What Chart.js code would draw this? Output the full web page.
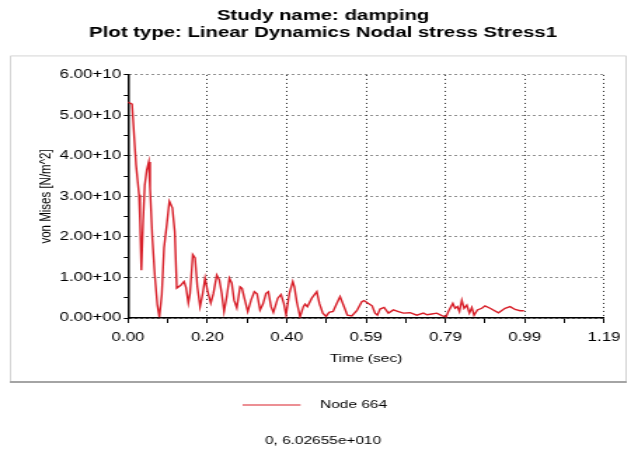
<!DOCTYPE html>
<html>
<head>
<meta charset="utf-8">
<title>damping - Node 664</title>
<script src="https://cdn.jsdelivr.net/npm/chart.js@4.4.0/dist/chart.umd.min.js"></script>
<style>
  html, body { margin: 0; padding: 0; background: #fff; }
  #Chart { display: block; }
</style>
</head>
<body>
<!-- plot is drawn narrow and widened on screen, like the solver's exported view -->
<canvas id="Chart" width="450" height="449" style="width: 631px; height: 449px;"></canvas>
<script>
'use strict';
// ********************** DATA *********************

const titleLines = ['Study name: damping', 'Plot type: Linear Dynamics Nodal stress Stress1'];
const seriesName = 'Node 664';
const readout = '0, 6.02655e+010';

// time (sec)
const timeSec = [
  0, 0.010, 0.020, 0.0275, 0.030, 0.0333, 0.0375, 0.0418, 0.0468, 0.0518,
  0.055, 0.0608, 0.0668, 0.0733, 0.0783, 0.0843, 0.090, 0.0968, 0.1033, 0.1108,
  0.1168, 0.1218, 0.1318, 0.140, 0.145, 0.1508, 0.155, 0.1618, 0.1675, 0.1733,
  0.180, 0.1868, 0.1925, 0.1983, 0.2068, 0.2133, 0.2218, 0.2283, 0.2343, 0.240,
  0.2468, 0.2533, 0.2593, 0.265, 0.2718, 0.280, 0.285, 0.2908, 0.2993, 0.3075,
  0.3158, 0.3225, 0.330, 0.3375, 0.345, 0.3508, 0.3575, 0.3633, 0.3743, 0.3825,
  0.3893, 0.395, 0.4033, 0.4118, 0.4158, 0.4218, 0.430, 0.4383, 0.4425, 0.4483,
  0.4593, 0.4718, 0.4783, 0.4868, 0.495, 0.5025, 0.5125, 0.520, 0.530, 0.5383,
  0.5483, 0.5593, 0.5718, 0.5843, 0.590, 0.6008, 0.610, 0.6175, 0.6233, 0.630,
  0.640, 0.6508, 0.6633, 0.6758, 0.6883, 0.705, 0.7218, 0.7383, 0.7475, 0.7593,
  0.7718, 0.7843, 0.795, 0.8008, 0.8118, 0.8175, 0.8233, 0.8283, 0.8343, 0.840,
  0.8468, 0.8533, 0.8593, 0.865, 0.8733, 0.8843, 0.8925, 0.905, 0.9258, 0.9425,
  0.955, 0.9675, 0.980, 0.990
];

// von Mises stress, in units of 1e10 N/m^2
const vonMises = [
  5.33, 5.28, 3.78, 3.04, 2.38, 1.18, 2.38, 3.28, 3.65, 3.85,
  3.20, 1.97, 1.06, 0.32, 0.02, 0.57, 1.73, 2.30, 2.88, 2.72,
  2.13, 0.74, 0.81, 0.90, 0.75, 0.37, 0.61, 1.56, 1.48, 0.77,
  0.28, 0.61, 0.98, 0.69, 0.37, 0.60, 1.06, 0.94, 0.60, 0.16,
  0.53, 0.98, 0.86, 0.44, 0.25, 0.77, 0.73, 0.49, 0.16, 0.44,
  0.65, 0.60, 0.20, 0.35, 0.61, 0.65, 0.28, 0.14, 0.49, 0.58,
  0.36, 0.08, 0.61, 0.90, 0.77, 0.40, 0.03, 0.28, 0.34, 0.28,
  0.49, 0.65, 0.36, 0.12, 0.04, 0.14, 0.16, 0.32, 0.53, 0.32,
  0.07, 0.05, 0.18, 0.40, 0.43, 0.36, 0.30, 0.12, 0.07, 0.22,
  0.26, 0.12, 0.20, 0.16, 0.12, 0.13, 0.07, 0.12, 0.08, 0.10,
  0.12, 0.06, 0.03, 0.16, 0.36, 0.24, 0.28, 0.16, 0.44, 0.24,
  0.32, 0.12, 0.26, 0.07, 0.20, 0.24, 0.30, 0.24, 0.13, 0.24,
  0.28, 0.21, 0.18, 0.18
];
const stressUnit = 1e10;

// axis ticks
const xMax = 1.19;
const xTickLabels = ['0.00', '0.20', '0.40', '0.59', '0.79', '0.99', '1.19'];
const yTickLabels = ['0.00+00', '1.00+10', '2.00+10', '3.00+10', '4.00+10', '5.00+10', '6.00+10'];

// ********************** STYLE *********************

const fontFamily = "'Liberation Sans', Arial, sans-serif";
const lineColor = '#d81e28';
Chart.defaults.color = '#000';
Chart.defaults.font.family = fontFamily;

// ********************** HELPERS *********************

// short line used as the legend swatch, with empty room on its right
function legendSwatch() {
  const c = document.createElement('canvas');
  c.width = 61;
  c.height = 3;
  const g = c.getContext('2d');
  g.fillStyle = lineColor;
  g.fillRect(0, 1, 41, 1);
  return c;
}

// grey frame around the plot panel
const panelFrame = {
  id: 'panelFrame',
  beforeDraw(chart) {
    const ctx = chart.ctx;
    const left = 7;
    const right = chart.width - 3;
    const top = chart.chartArea.top - 19.5;
    const bottom = chart.legend.top;
    ctx.save();
    ctx.fillStyle = '#fff';
    ctx.fillRect(0, 0, chart.width, chart.height);
    ctx.lineWidth = 1;
    ctx.strokeStyle = '#d4d4d4';
    ctx.beginPath();
    ctx.moveTo(left + 0.5, bottom);
    ctx.lineTo(left + 0.5, top + 0.5);
    ctx.lineTo(right - 0.5, top + 0.5);
    ctx.lineTo(right - 0.5, bottom);
    ctx.stroke();
    ctx.lineWidth = 2;
    ctx.strokeStyle = '#a4a4a4';
    ctx.beginPath();
    ctx.moveTo(left, bottom);
    ctx.lineTo(right, bottom);
    ctx.stroke();
    ctx.restore();
  }
};

// ********************** CHART *********************

let canvasElem = document.getElementById('Chart');

function renderChart() {
  const points = timeSec.map((t, i) => ({ x: t, y: vonMises[i] * stressUnit }));

  const gridColor = (ctx) => (ctx.index % 2 ? 'rgba(0,0,0,0)' : '#222');

  let chartObj = {
    type: 'line',
    data: {
      datasets: [{
        label: seriesName,
        data: points,
        borderColor: lineColor,
        backgroundColor: lineColor,
        borderWidth: 1.4,
        pointRadius: 0,
        tension: 0,
        fill: false
      }]
    },
    options: {
      responsive: false,
      devicePixelRatio: 1,
      animation: false,
      layout: { padding: { left: 30, right: 19.2, top: 0, bottom: 0 } },
      plugins: {
        title: {
          display: true,
          text: titleLines,
          color: '#000',
          font: { size: 14.5, weight: 'bold', lineHeight: 1.17 },
          padding: { top: 8, bottom: 33 }
        },
        subtitle: {
          display: true,
          position: 'bottom',
          text: readout,
          color: '#000',
          font: { size: 11 },
          padding: { top: 14, bottom: 1.3 }
        },
        legend: {
          position: 'bottom',
          labels: {
            usePointStyle: true,
            pointStyle: legendSwatch(),
            pointStyleWidth: 38,
            padding: 17.5,
            color: '#000',
            font: { size: 11 }
          }
        },
        tooltip: { enabled: false }
      },
      scales: {
        x: {
          type: 'linear',
          min: 0,
          max: xMax,
          afterBuildTicks: (scale) => {
            scale.ticks = Array.from({ length: 13 }, (_, i) => ({ value: xMax * i / 12 }));
          },
          afterFit: (scale) => { scale.height = 64; },
          ticks: {
            autoSkip: false,
            maxRotation: 0,
            padding: 7.3,
            font: { size: 12 },
            callback: (value, index) => (index % 2 ? '' : xTickLabels[index / 2])
          },
          grid: {
            color: gridColor,
            tickColor: '#000',
            tickLength: 5,
            lineWidth: 1
          },
          border: { display: true, color: '#000', width: 1.5, dash: [1, 3] },
          title: {
            display: true,
            text: 'Time (sec)',
            font: { size: 11 },
            padding: { top: 0, bottom: 16.4 }
          }
        },
        y: {
          min: 0,
          max: 6 * stressUnit,
          afterFit: (scale) => { scale.width = 61.3; },
          ticks: {
            stepSize: stressUnit / 2,
            autoSkip: false,
            padding: 2,
            font: { size: 12 },
            callback: (value) => {
              const k = Math.round(value / stressUnit * 2);
              return k % 2 ? '' : yTickLabels[k / 2];
            }
          },
          grid: {
            color: gridColor,
            tickColor: '#000',
            tickLength: 3,
            lineWidth: 1
          },
          border: { display: true, color: '#000', width: 1.5, dash: [1, 3] },
          title: {
            display: true,
            text: 'von Mises [N/m^2]',
            font: { size: 11.5 },
            padding: { top: -4, bottom: 0 }
          }
        }
      }
    },
    plugins: [panelFrame]
  };
  new Chart(canvasElem, chartObj);
}

// ********************** RUN *********************
renderChart();
</script>
</body>
</html>
